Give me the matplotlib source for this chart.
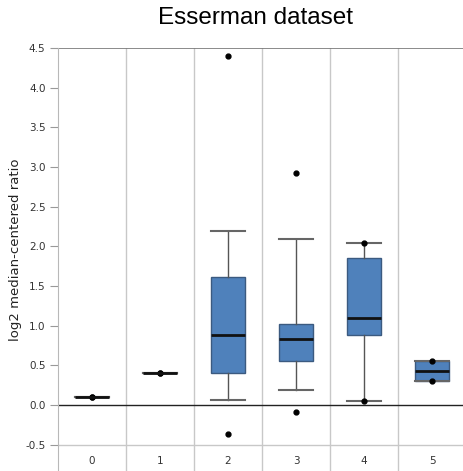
import matplotlib
matplotlib.use("Agg")
import matplotlib.pyplot as plt

# Esserman dataset
categories = ["0", "1", "2", "3", "4", "5"]
q1 = [0.10, 0.41, 0.40, 0.56, 0.88, 0.31]
med = [0.10, 0.41, 0.88, 0.83, 1.10, 0.43]
q3 = [0.10, 0.41, 1.62, 1.02, 1.86, 0.555]
whislo = [0.10, 0.41, 0.065, 0.19, 0.055, 0.31]
whishi = [0.10, 0.41, 2.20, 2.09, 2.04, 0.555]
# min / max points shown as dots
mins = [0.10, 0.41, -0.36, -0.09, 0.055, 0.31]
maxs = [0.10, 0.41, 4.40, 2.93, 2.04, 0.555]

yticks = [-0.5, 0.0, 0.5, 1.0, 1.5, 2.0, 2.5, 3.0, 3.5, 4.0, 4.5]

fig = plt.figure(figsize=(4.64, 4.71), dpi=100)
ax = fig.add_axes([58 / 464, 0.0, 406 / 464, 1 - 48 / 471])

stats = []
for i in range(len(categories)):
    stats.append(dict(med=med[i], q1=q1[i], q3=q3[i], whislo=whislo[i],
                      whishi=whishi[i], fliers=[mins[i], maxs[i]],
                      label=categories[i]))

pos = list(range(len(categories)))
ax.bxp(stats, positions=pos, widths=0.51, patch_artist=True,
       boxprops=dict(facecolor="#4f81bb", edgecolor="#3b5a80", linewidth=1.0),
       medianprops=dict(color="#111111", linewidth=2.0),
       whiskerprops=dict(color="#555555", linewidth=1.0),
       capprops=dict(color="#666666", linewidth=1.5),
       flierprops=dict(marker="o", markersize=3.5, markerfacecolor="black",
                       markeredgecolor="black"),
       capwidths=0.51, zorder=3)

ax.set_xlim(-0.5, 5.47)
ax.set_ylim(-0.83, 4.5)

# category separators
for k in range(len(categories)):
    ax.axvline(k + 0.5, color="#c8c8c8", linewidth=1.0, zorder=1)
ax.axhline(0.0, color="#222222", linewidth=1.0, zorder=2)
ax.axhline(-0.5, color="#c8c8c8", linewidth=1.0, zorder=1)
ax.axhline(4.5, color="#777777", linewidth=1.2, zorder=2)

for s in ["top", "right", "bottom"]:
    ax.spines[s].set_visible(False)
ax.spines["left"].set_color("#b8b8b8")

ax.set_xticks([])
ax.set_yticks(yticks)
ax.set_yticklabels([f"{v:.1f}" for v in yticks])
ax.tick_params(axis="y", length=6, color="#999999", labelsize=7.5,
               labelcolor="#333333", pad=3)

for k, c in enumerate(categories):
    ax.text(k, -0.71, c, ha="center", va="center", fontsize=7.5, color="#333333")

fig.text(16 / 464, 1 - 250 / 471, "log2 median-centered ratio", rotation=90,
         ha="center", va="center", fontsize=9.5, color="#222222")
fig.text(256 / 464, 1 - 18 / 471, "Esserman dataset", ha="center", va="center",
         fontsize=17.5, family="Liberation Sans")

fig.savefig("out.png", dpi=100)
